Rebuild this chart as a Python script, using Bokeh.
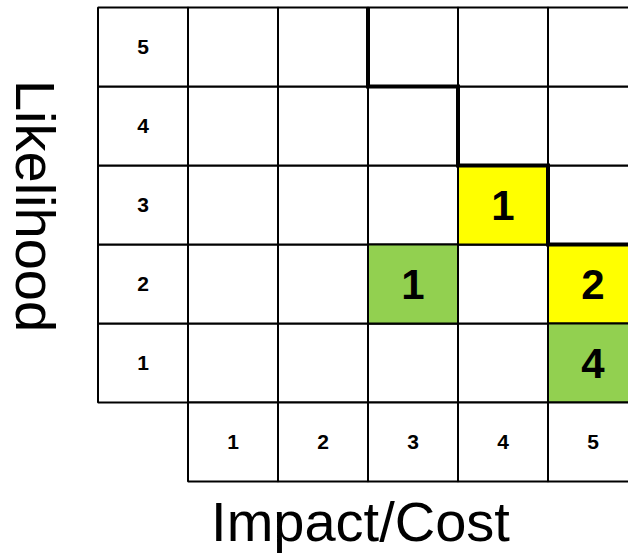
import math
from bokeh.plotting import figure
from bokeh.models import Range1d, Label
from bokeh.core.properties import value
from bokeh.embed import file_html
from bokeh.resources import INLINE

# ---- data ----
impact_levels = [1, 2, 3, 4, 5]
likelihood_levels = [1, 2, 3, 4, 5]
impact_tick_labels = ["1", "2", "3", "4", "5"]
likelihood_tick_labels = ["1", "2", "3", "4", "5"]

risk_impact = [3, 4, 5, 5]
risk_likelihood = [2, 3, 2, 1]
risk_count = [1, 1, 2, 4]
risk_color = ["#92D050", "#FFFF00", "#FFFF00", "#92D050"]

# high-risk zone: lowest likelihood in the zone for each impact column
zone_impact = [3, 4, 5]
zone_min_likelihood = [5, 4, 3]

x_title = "Impact/Cost"
y_title = "Likelihood"

# ---- layout (pixels of the page) ----
W, H = 628, 557
GL, CW = 97.5, 90.0     # grid left edge, cell width
GT, RH = 7.0, 79.0      # grid top edge, row height
top_level = max(likelihood_levels)


def px_to_x(px):
    return -0.5 + (px - GL) / CW


def py_to_y(py):
    return top_level + 0.5 - (py - GT) / RH


p = figure(width=W, height=H, output_backend="svg", toolbar_location=None,
           x_range=Range1d(px_to_x(0), px_to_x(W)),
           y_range=Range1d(py_to_y(H), py_to_y(0)),
           x_axis_type=None, y_axis_type=None, min_border=0,
           outline_line_color=None, background_fill_color="white",
           border_fill_color="white")
p.xgrid.visible = False
p.ygrid.visible = False

# main 5x5 grid
gx = [i for i in impact_levels for j in likelihood_levels]
gy = [j for i in impact_levels for j in likelihood_levels]
p.rect(x=gx, y=gy, width=1, height=1, fill_color="white",
       line_color="black", line_width=2)

# coloured risk cells
p.rect(x=risk_impact, y=risk_likelihood, width=1, height=1,
       fill_color=risk_color, line_color="black", line_width=2)

# label column and label row
p.rect(x=[0] * len(likelihood_levels), y=likelihood_levels, width=1, height=1,
       fill_color="white", line_color="black", line_width=2)
p.rect(x=impact_levels, y=[0] * len(impact_levels), width=1, height=1,
       fill_color="white", line_color="black", line_width=2)

# staircase boundary of high-risk zone
sx = [zone_impact[0] - 0.5]
sy = [top_level + 0.5]
for i, t in zip(zone_impact, zone_min_likelihood):
    sx += [i - 0.5, i + 0.5]
    sy += [t - 0.5, t - 0.5]
p.line(sx, sy, line_color="black", line_width=4, line_join="miter")

# tick labels in cells
p.text(x=[0] * len(likelihood_levels), y=likelihood_levels,
       text=likelihood_tick_labels, text_align="center",
       text_baseline="middle", text_font=value("Liberation Sans"),
       text_font_style="bold", text_font_size="21px", text_color="black")
p.text(x=impact_levels, y=[0] * len(impact_levels),
       text=impact_tick_labels, text_align="center",
       text_baseline="middle", text_font=value("Liberation Sans"),
       text_font_style="bold", text_font_size="21px", text_color="black")

# counts
p.text(x=risk_impact, y=risk_likelihood, text=[str(c) for c in risk_count],
       text_align="center", text_baseline="middle",
       text_font=value("Liberation Sans"), text_font_style="bold",
       text_font_size="42px", text_color="black")

# titles
p.add_layout(Label(x=px_to_x(360), y=py_to_y(521), text=x_title,
                   text_align="center", text_baseline="alphabetic",
                   text_font="Liberation Sans", text_font_size="56px",
                   text_color="black"))
p.add_layout(Label(x=px_to_x(35), y=py_to_y(205.5), text=y_title,
                   angle=-math.pi / 2, text_align="center",
                   text_baseline="alphabetic",
                   text_font="Liberation Sans", text_font_size="56px",
                   text_color="black"))

open("out.html", "w").write(file_html(p, INLINE))
